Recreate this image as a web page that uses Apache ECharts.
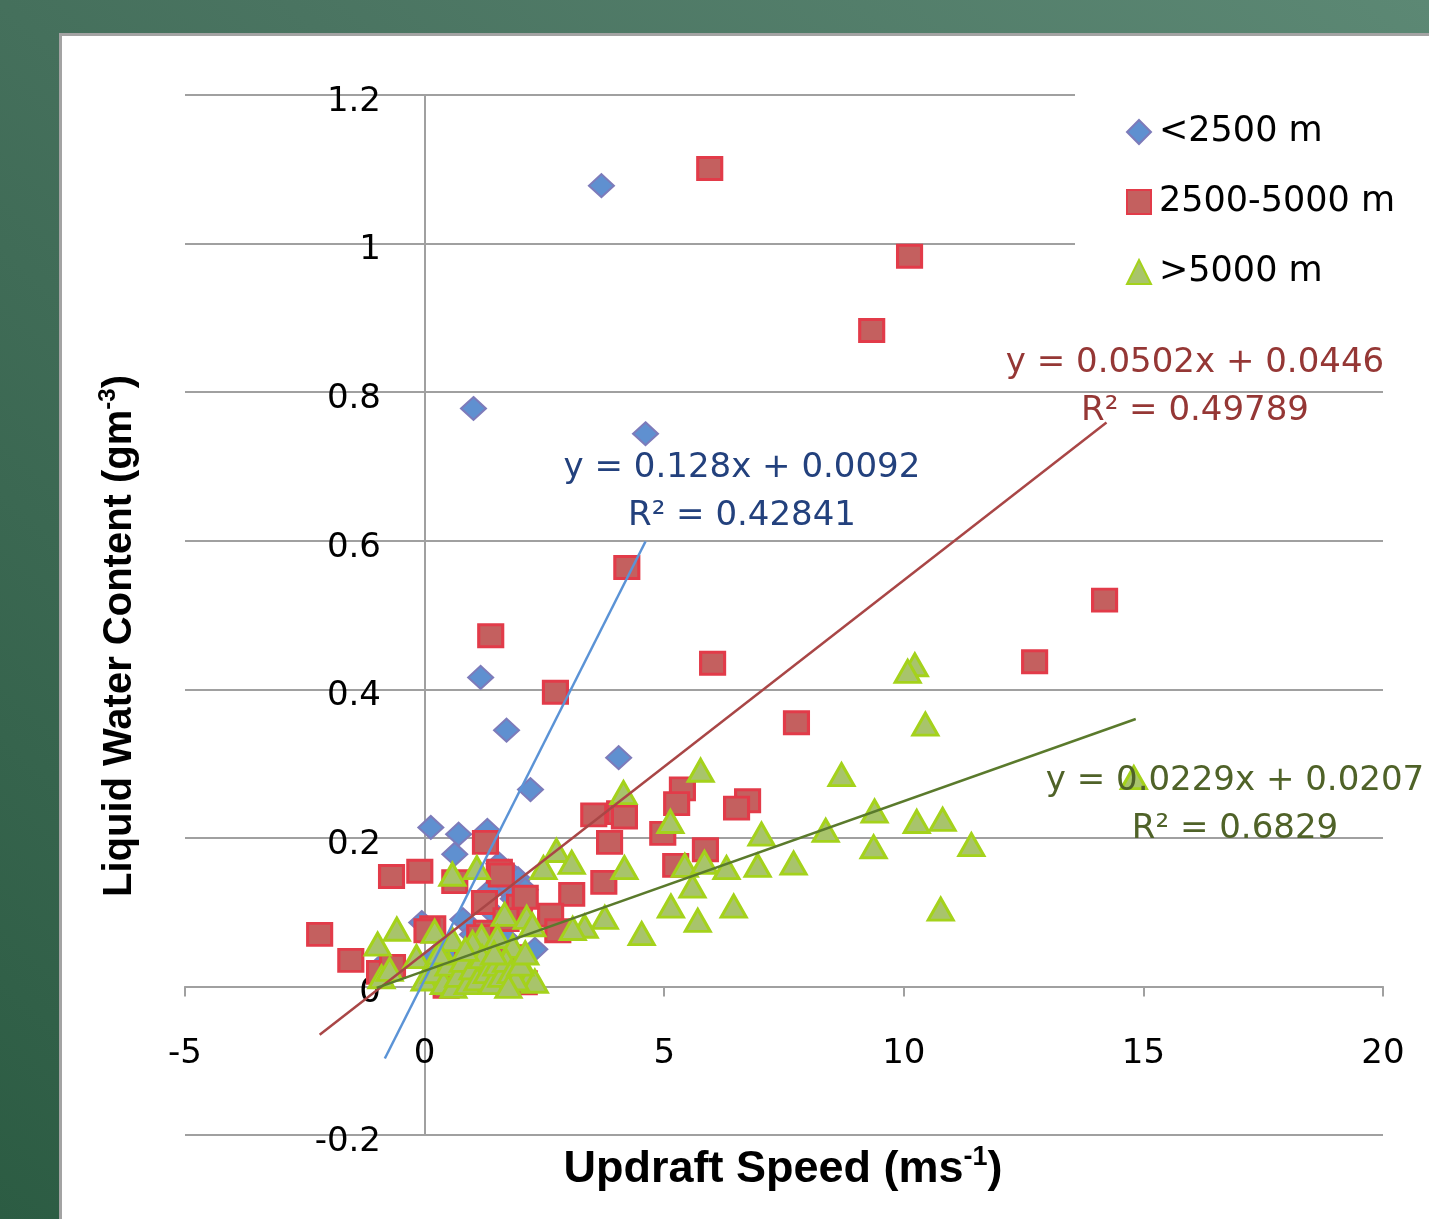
<!DOCTYPE html>
<html><head><meta charset="utf-8">
<script src="https://cdn.jsdelivr.net/npm/echarts@6/dist/echarts.min.js"></script>
<style>
html,body{margin:0;padding:0;width:1429px;height:1219px;overflow:hidden;}
body{background:linear-gradient(to bottom left,#5c8874 0%,#4a7461 40%,#2c5c43 100%);}
#panel{position:absolute;left:59px;top:33px;width:1380px;height:1200px;background:#fff;border-left:3px solid #a3a3a3;border-top:3px solid #a3a3a3;}
#chart{position:absolute;left:0;top:0;width:1429px;height:1219px;}
</style></head>
<body><div id="panel"></div><div id="chart"></div>
<script>
const seriesNames = ['<2500 m', '2500-5000 m', '>5000 m'];
const xTicks = [-5, 0, 5, 10, 15, 20];
const yTicks = [-0.2, 0, 0.2, 0.4, 0.6, 0.8, 1.0, 1.2];
const xTitle = 'Updraft Speed (ms';
const yTitle = 'Liquid Water Content (gm';

const blueData = [
  [3.69,1.078],[1.02,0.778],[4.61,0.744],[1.17,0.416],[1.71,0.345],[4.05,0.308],[2.21,0.265],
  [0.13,0.214],[0.71,0.205],[1.31,0.210],[0.63,0.178],[1.55,0.165],[1.75,0.155],[1.95,0.145],
  [2.10,0.130],[1.65,0.135],[1.35,0.128],[1.85,0.118],[2.00,0.108],[1.45,0.098],[-0.06,0.086],
  [0.80,0.090],[1.00,0.070],[1.40,0.060],[0.50,0.050],[0.20,0.040],[-0.90,0.028],[0.60,0.020],
  [1.10,0.030],[1.60,0.040],[2.30,0.050],[0.90,0.010],[1.70,0.065]
];
const redData = [
  [5.95,1.101],[10.12,0.983],[9.33,0.883],[4.22,0.564],[1.38,0.472],[2.73,0.396],[14.19,0.520],
  [12.73,0.437],[6.01,0.435],[7.76,0.355],[5.38,0.266],[5.26,0.246],[6.74,0.250],[6.51,0.240],
  [3.53,0.231],[4.07,0.234],[4.17,0.228],[5.86,0.184],[3.86,0.194],[4.97,0.206],[5.24,0.163],
  [3.74,0.140],[3.07,0.124],[2.63,0.096],[2.78,0.075],[1.27,0.194],[-0.69,0.148],[-0.10,0.155],
  [-2.19,0.070],[-1.54,0.035],[1.56,0.155],[0.63,0.141],[1.25,0.113],[1.98,0.108],[0.17,0.079],
  [1.29,0.073],[1.15,0.067],[2.08,0.005],[1.21,0.019],[0.45,0.000],[-0.94,0.019],[-0.67,0.027],
  [0.05,0.075],[1.60,0.150],[1.70,0.090],[2.10,0.120],[0.90,0.030],[1.80,0.040]
];
const greenData = [
  [10.23,0.433],[10.08,0.424],[10.45,0.353],[14.80,0.281],[5.76,0.291],[8.70,0.285],[4.15,0.261],
  [9.39,0.236],[5.13,0.222],[10.27,0.222],[10.81,0.225],[7.03,0.205],[8.37,0.210],[11.41,0.191],
  [9.37,0.188],[2.75,0.183],[3.07,0.167],[2.48,0.160],[5.43,0.163],[5.84,0.167],[6.30,0.160],
  [6.95,0.163],[7.70,0.166],[4.17,0.160],[10.77,0.104],[6.45,0.108],[5.14,0.108],[5.59,0.135],
  [5.70,0.089],[4.53,0.071],[3.76,0.093],[3.34,0.081],[3.09,0.078],[2.19,0.012],[0.58,0.151],
  [1.09,0.160],[-0.98,0.057],[-0.58,0.077],[0.21,0.074],[0.58,0.063],[1.19,0.067],[1.67,0.097],
  [2.13,0.093],[2.25,0.083],[1.52,0.067],[1.84,0.054],[2.30,0.007],[1.00,0.059],[-0.90,0.013],
  [-0.73,0.023],[-0.17,0.040],[0.00,0.010],[0.20,0.020],[0.40,0.005],[0.50,0.030],[0.60,0.000],
  [0.70,0.015],[0.80,0.035],[0.90,0.005],[1.00,0.025],[1.10,0.010],[1.20,0.040],[1.30,0.020],
  [1.40,0.005],[1.50,0.030],[1.60,0.015],[1.70,0.035],[1.80,0.020],[1.90,0.010],[2.00,0.030],
  [0.30,0.045],[0.85,0.050],[1.45,0.045],[1.75,0.000],[2.10,0.045]
];
const blueTrend = [[-0.83,-0.097],[4.61,0.599]];
const redTrend = [[-2.19,-0.065],[14.23,0.759]];
const greenTrend = [[-1.00,-0.002],[14.84,0.360]];
const blueEq = ['y = 0.128x + 0.0092', 'R² = 0.42841'];
const redEq = ['y = 0.0502x + 0.0446', 'R² = 0.49789'];
const greenEq = ['y = 0.0229x + 0.0207', 'R² = 0.6829'];

const FONT = 'DejaVu Sans';
const GRAY = '#a0a0a0';

const chart = echarts.init(document.getElementById('chart'), null, {renderer: 'canvas'});

function scatter(name, data, symbol, size, fill, border, bw) {
  return {
    name, type: 'scatter', data, symbol, symbolSize: size,
    itemStyle: {color: fill, borderColor: border, borderWidth: bw, opacity: 1},
    emphasis: {disabled: true}, silent: true
  };
}
function trend(name, data, color) {
  return {
    name, type: 'line', data, symbol: 'none', silent: true, z: 5,
    lineStyle: {color, width: 2.5}, emphasis: {disabled: true}
  };
}
function eqText(lines, x, y, color) {
  return {
    type: 'text', x, y, z: 100,
    style: {text: lines.join('\n'), font: '34px "' + FONT + '"', fill: color,
      align: 'center', verticalAlign: 'middle', lineHeight: 48}
  };
}

const option = {
  animation: false,
  backgroundColor: 'transparent',
  grid: {left: 185, right: 46, top: 95, bottom: 84, containLabel: false},
  xAxis: {
    type: 'value', min: xTicks[0], max: xTicks[xTicks.length - 1], interval: 5,
    axisLine: {onZero: true, lineStyle: {color: GRAY, width: 2}},
    axisTick: {show: true, length: 10, lineStyle: {color: GRAY, width: 2}},
    splitLine: {show: false},
    axisLabel: {margin: -98, fontSize: 34, fontFamily: FONT, color: '#000'}
  },
  yAxis: {
    type: 'value', min: yTicks[0], max: yTicks[yTicks.length - 1], interval: 0.2,
    axisLine: {onZero: true, lineStyle: {color: GRAY, width: 2}},
    axisTick: {show: true, length: 10, lineStyle: {color: GRAY, width: 2}},
    splitLine: {show: true, lineStyle: {color: GRAY, width: 2}},
    axisLabel: {margin: -196, fontSize: 34, fontFamily: FONT, color: '#000',
      verticalAlign: 'top', lineHeight: 14,
      formatter: v => String(Math.round(v * 10) / 10)}
  },
  legend: {
    data: seriesNames, orient: 'vertical', left: 1075, top: 94,
    padding: [18, 20, 28, 51], itemGap: 30, itemWidth: 24, itemHeight: 24,
    backgroundColor: '#ffffff', selectedMode: false,
    textStyle: {fontSize: 35, fontFamily: FONT, color: '#000', lineHeight: 34, padding: [6, 0, 0, 3]}
  },
  series: [
    scatter(seriesNames[0], blueData, 'diamond', [25, 23], '#5f90d0', '#7d7bba', 2),
    scatter(seriesNames[1], redData, 'rect', [24, 22], '#c4605f', '#e23b49', 3),
    scatter(seriesNames[2], greenData, 'triangle', [25, 22], '#a8c46b', '#a4d21b', 3),
    trend('t1', blueTrend, '#5b93d6'),
    trend('t2', redTrend, '#a94646'),
    trend('t3', greenTrend, '#5a7a2c')
  ],
  graphic: [
    eqText(blueEq, 742, 492, '#23417d'),
    eqText(redEq, 1195, 387, '#953735'),
    eqText(greenEq, 1235, 805, '#4f6228'),
    {
      type: 'text', x: 783, y: 1170, z: 100,
      style: {
        text: '{a|' + xTitle + '}{s|-1}{a|)}', align: 'center', verticalAlign: 'middle',
        rich: {
          a: {fontSize: 45, fontWeight: 'bold', fontFamily: 'Liberation Sans', fill: '#000', lineHeight: 52},
          s: {fontSize: 27, fontWeight: 'bold', fontFamily: 'Liberation Sans', fill: '#000', lineHeight: 34, verticalAlign: 'top'}
        }
      }
    },
    {
      type: 'text', x: 120, y: 636, rotation: Math.PI / 2, z: 100,
      style: {
        text: '{a|' + yTitle + '}{s|-3}{a|)}', align: 'center', verticalAlign: 'middle',
        rich: {
          a: {fontSize: 40, fontWeight: 'bold', fontFamily: 'Liberation Sans', fill: '#000', lineHeight: 48},
          s: {fontSize: 24, fontWeight: 'bold', fontFamily: 'Liberation Sans', fill: '#000', lineHeight: 32, verticalAlign: 'top'}
        }
      }
    }
  ]
};
chart.setOption(option);
</script>
</body></html>
